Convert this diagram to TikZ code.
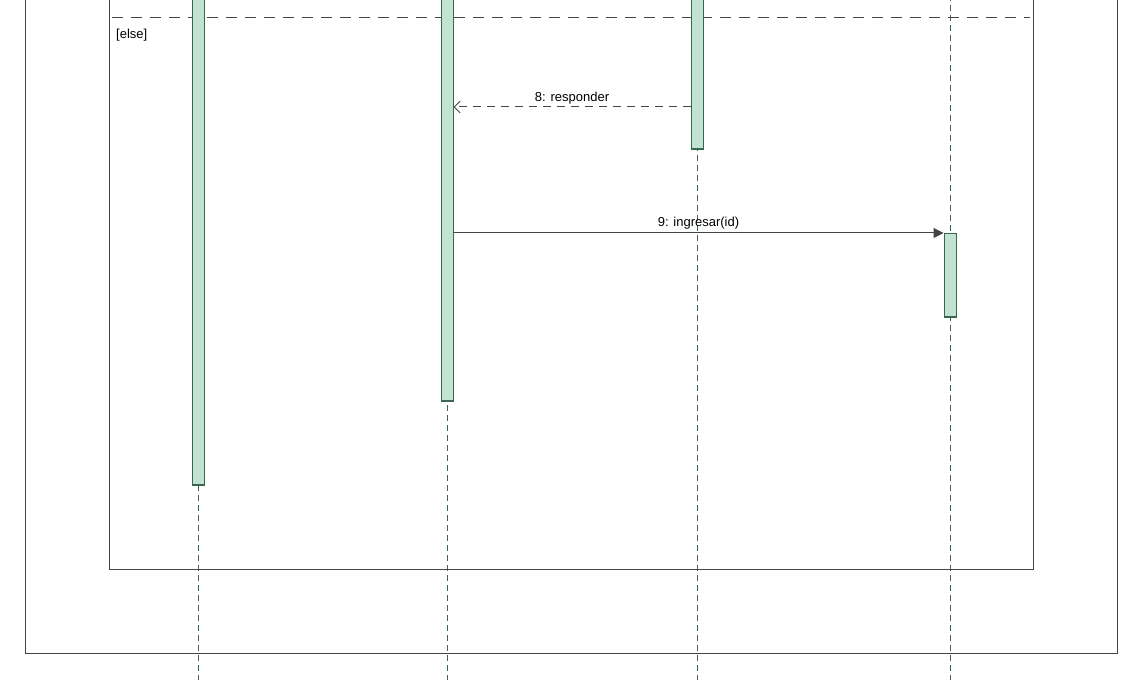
\documentclass[tikz,border=0pt]{standalone}
\usepackage{fontspec}
\setmainfont{Liberation Sans}
\usetikzlibrary{arrows.meta}
\definecolor{lifegreen}{HTML}{3B6652}
\definecolor{barfill}{HTML}{C3E3D2}
\definecolor{framegray}{HTML}{444444}
\tikzset{
  lifeline/.style={draw=lifegreen, line width=0.9pt, dash pattern=on 6pt off 4pt},
  actbar/.style={draw=lifegreen, fill=barfill, line width=1pt, rectangle,
    minimum width=12pt, inner sep=0pt, anchor=north},
  barbase/.style={draw=lifegreen, line width=2pt},
  fragment/.style={draw=framegray, line width=1pt},
  guard/.style={draw=framegray, line width=1pt, dash pattern=on 11pt off 8pt},
  callmsg/.style={draw=framegray, line width=1pt, -{Triangle[length=10pt,width=10pt]}},
  replymsg/.style={draw=framegray, line width=1pt, dash pattern=on 8pt off 6pt,
    -{Straight Barb[length=6pt,width=12pt]}},
  msglabel/.style={font=\fontsize{13}{15}\selectfont, inner sep=1pt, text=black}
}
\begin{document}
\begin{tikzpicture}[x=1pt,y=1pt,yscale=-1,xscale=1]
\clip (0,0) rectangle (1140,700);

%Lifelines
\foreach \lx in {198,447,697,950}
  \draw[lifeline] (\lx,-5) -- (\lx,680);

%Combined fragments
\draw[fragment] (25,-5) -- (25,653) -- (1117,653) -- (1117,-5);
\draw[fragment] (109,-5) -- (109,569) -- (1033,569) -- (1033,-5);
\draw[guard] (112,18) -- (1030,18);
% Text Node
\node[msglabel, anchor=west] (elseguard) at (115,35) {[else]};

%Activation bars
\node[actbar, minimum height=489pt] (barA) at (198,-5) {};
\node[actbar, minimum height=405pt] (barB) at (447,-5) {};
\node[actbar, minimum height=153pt] (barC) at (697,-5) {};
\node[actbar, minimum height=83pt] (barD) at (950,233) {};
\foreach \b in {barA,barB,barC,barD}
  \draw[barbase] (\b.south west) -- (\b.south east);

%Messages
\coordinate (msgreply) at (0,107);
\coordinate (msgcall) at (0,233);
\draw[replymsg] (barC.west |- msgreply) -- node[msglabel, above=1.5pt] {8: responder} (barB.east |- msgreply);
\draw[callmsg] (barB.east |- msgcall) -- node[msglabel, above=2pt] {9: ingresar(id)} (barD.north west);

\end{tikzpicture}
\end{document}
